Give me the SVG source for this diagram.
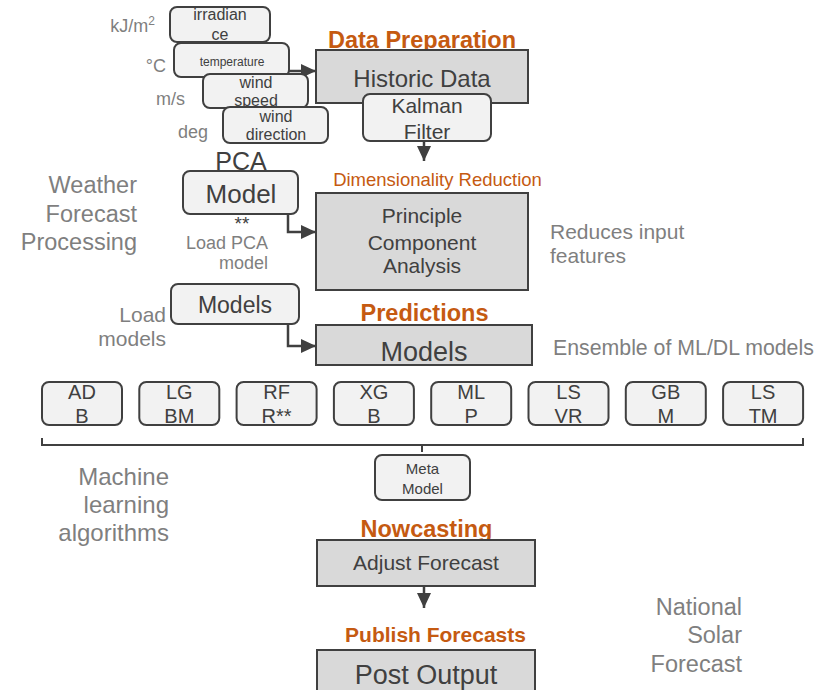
<svg xmlns="http://www.w3.org/2000/svg" width="832" height="690" viewBox="0 0 832 690">
<defs>
<style>
text{font-family:"Liberation Sans",Arial,sans-serif;}
.lb{fill:#f2f2f2;stroke:#404040;stroke-width:2;}
.gb{fill:#d9d9d9;stroke:#404040;stroke-width:2;}
.dt{fill:#404040;text-anchor:middle;}
.gt{fill:#7f7f7f;}
.ot{fill:#c55a11;text-anchor:middle;}
.ob{fill:#c55a11;text-anchor:middle;font-weight:bold;}
.ln{fill:none;stroke:#404040;stroke-width:2.5;}
.br{fill:none;stroke:#404040;stroke-width:2;}
</style>
<marker id="ah" markerUnits="userSpaceOnUse" markerWidth="15" markerHeight="14" refX="15" refY="7" orient="auto">
<path d="M0,0 L15,7 L0,14 z" fill="#404040"/>
</marker>
</defs>
<rect width="832" height="690" fill="#ffffff"/>

<g id="labels" class="gt">
<text x="155" y="32" font-size="18" text-anchor="end">kJ/m<tspan font-size="12" dy="-7">2</tspan></text>
<text x="166" y="72" font-size="18" text-anchor="end">°C</text>
<text x="185" y="105" font-size="18" text-anchor="end">m/s</text>
<text x="208" y="138" font-size="18" text-anchor="end">deg</text>
<text x="137" y="193" font-size="23.5" text-anchor="end">Weather</text>
<text x="137" y="222" font-size="23.5" text-anchor="end">Forecast</text>
<text x="137" y="250" font-size="23.5" text-anchor="end">Processing</text>
<text x="268" y="249" font-size="18" text-anchor="end">Load PCA</text>
<text x="268" y="269" font-size="18" text-anchor="end">model</text>
<text x="550" y="239" font-size="21">Reduces input</text>
<text x="550" y="263" font-size="21">features</text>
<text x="166" y="322" font-size="21" text-anchor="end">Load</text>
<text x="166" y="346" font-size="21" text-anchor="end">models</text>
<text x="553" y="355" font-size="21.3">Ensemble of ML/DL models</text>
<text x="169" y="485" font-size="24" text-anchor="end">Machine</text>
<text x="169" y="513" font-size="24" text-anchor="end">learning</text>
<text x="169" y="541" font-size="24" text-anchor="end">algorithms</text>
<text x="742" y="615" font-size="23.5" text-anchor="end">National</text>
<text x="742" y="643" font-size="23.5" text-anchor="end">Solar</text>
<text x="742" y="672" font-size="23.5" text-anchor="end">Forecast</text>
</g>

<g id="titles">
<text class="ob" x="422" y="48" font-size="23.5">Data Preparation</text>
<text class="ot" x="437.5" y="186" font-size="18.5">Dimensionality Reduction</text>
<text class="ob" x="424.5" y="321" font-size="23.5">Predictions</text>
<text class="ob" x="426.5" y="537" font-size="23.5">Nowcasting</text>
<text class="ob" x="435.5" y="642" font-size="21">Publish Forecasts</text>
</g>

<g id="connectors">
<line class="ln" x1="289" y1="71" x2="316" y2="71" marker-end="url(#ah)"/>
<line class="ln" x1="424" y1="141" x2="424" y2="161" marker-end="url(#ah)"/>
<path class="ln" d="M288,214 V232 H316" marker-end="url(#ah)"/>
<path class="ln" d="M288,324 V346 H316" marker-end="url(#ah)"/>
<path class="br" d="M42,438 V445 H803 V438 M422,445 V452"/>
<line class="ln" x1="424" y1="586" x2="424" y2="608" marker-end="url(#ah)"/>
</g>

<g id="irradiance">
<rect class="lb" x="170" y="7" width="100" height="35" rx="7"/>
<text class="dt" x="220" y="20" font-size="16">irradian</text>
<text class="dt" x="220" y="40" font-size="16">ce</text>
</g>
<g id="temperature">
<rect class="lb" x="174" y="43" width="115" height="34" rx="7"/>
<text class="dt" x="232" y="66" font-size="12">temperature</text>
</g>
<g id="wind-speed">
<rect class="lb" x="203" y="74" width="105" height="34" rx="7"/>
<text class="dt" x="256" y="88" font-size="16">wind</text>
<text class="dt" x="256" y="106" font-size="16">speed</text>
</g>
<g id="wind-direction">
<rect class="lb" x="223" y="107" width="105" height="36" rx="7"/>
<text class="dt" x="276" y="122" font-size="16">wind</text>
<text class="dt" x="276" y="140" font-size="16">direction</text>
</g>

<g id="historic-data">
<rect class="gb" x="316" y="50" width="212" height="53"/>
<text class="dt" x="422" y="87" font-size="24">Historic Data</text>
</g>
<g id="kalman-filter">
<rect class="lb" x="363" y="94" width="128" height="47" rx="7"/>
<text class="dt" x="427" y="113" font-size="21">Kalman</text>
<text class="dt" x="427" y="139" font-size="21">Filter</text>
</g>

<g id="pca-model">
<text class="dt" x="241" y="170" font-size="25">PCA</text>
<rect class="lb" x="183" y="171" width="115" height="43" rx="7"/>
<text class="dt" x="241" y="203" font-size="26">Model</text>
<text class="dt" x="242" y="230" font-size="19">**</text>
</g>

<g id="pca">
<rect class="gb" x="316" y="193" width="212" height="97"/>
<text class="dt" x="422" y="223" font-size="21">Principle</text>
<text class="dt" x="422" y="250" font-size="21">Component</text>
<text class="dt" x="422" y="273" font-size="21">Analysis</text>
</g>

<g id="load-models">
<rect class="lb" x="171" y="284" width="128" height="40" rx="7"/>
<text class="dt" x="235" y="313" font-size="23">Models</text>
</g>

<g id="prediction-models">
<rect class="gb" x="316" y="325" width="216" height="40"/>
<text class="dt" x="424" y="361" font-size="27">Models</text>
</g>

<g id="algorithms">
<g id="adb"><rect class="lb" x="42" y="382" width="80" height="43" rx="7"/><text class="dt" x="82" y="399" font-size="20">AD</text><text class="dt" x="82" y="423" font-size="20">B</text></g>
<g id="lgbm"><rect class="lb" x="139.3" y="382" width="80" height="43" rx="7"/><text class="dt" x="179.3" y="399" font-size="20">LG</text><text class="dt" x="179.3" y="423" font-size="20">BM</text></g>
<g id="rfr"><rect class="lb" x="236.6" y="382" width="80" height="43" rx="7"/><text class="dt" x="276.6" y="399" font-size="20">RF</text><text class="dt" x="276.6" y="423" font-size="20">R**</text></g>
<g id="xgb"><rect class="lb" x="333.9" y="382" width="80" height="43" rx="7"/><text class="dt" x="373.9" y="399" font-size="20">XG</text><text class="dt" x="373.9" y="423" font-size="20">B</text></g>
<g id="mlp"><rect class="lb" x="431.2" y="382" width="80" height="43" rx="7"/><text class="dt" x="471.2" y="399" font-size="20">ML</text><text class="dt" x="471.2" y="423" font-size="20">P</text></g>
<g id="lsvr"><rect class="lb" x="528.5" y="382" width="80" height="43" rx="7"/><text class="dt" x="568.5" y="399" font-size="20">LS</text><text class="dt" x="568.5" y="423" font-size="20">VR</text></g>
<g id="gbm"><rect class="lb" x="625.8" y="382" width="80" height="43" rx="7"/><text class="dt" x="665.8" y="399" font-size="20">GB</text><text class="dt" x="665.8" y="423" font-size="20">M</text></g>
<g id="lstm"><rect class="lb" x="723.1" y="382" width="80" height="43" rx="7"/><text class="dt" x="763.1" y="399" font-size="20">LS</text><text class="dt" x="763.1" y="423" font-size="20">TM</text></g>
</g>

<g id="meta-model">
<rect class="lb" x="375" y="455" width="95" height="45" rx="7"/>
<text class="dt" x="422.5" y="474" font-size="15">Meta</text>
<text class="dt" x="422.5" y="494" font-size="15">Model</text>
</g>

<g id="adjust-forecast">
<rect class="gb" x="317" y="540" width="218" height="46"/>
<text class="dt" x="426" y="570" font-size="21">Adjust Forecast</text>
</g>

<g id="post-output">
<rect class="gb" x="317" y="650" width="218" height="50"/>
<text class="dt" x="426" y="684" font-size="27">Post Output</text>
</g>
</svg>
